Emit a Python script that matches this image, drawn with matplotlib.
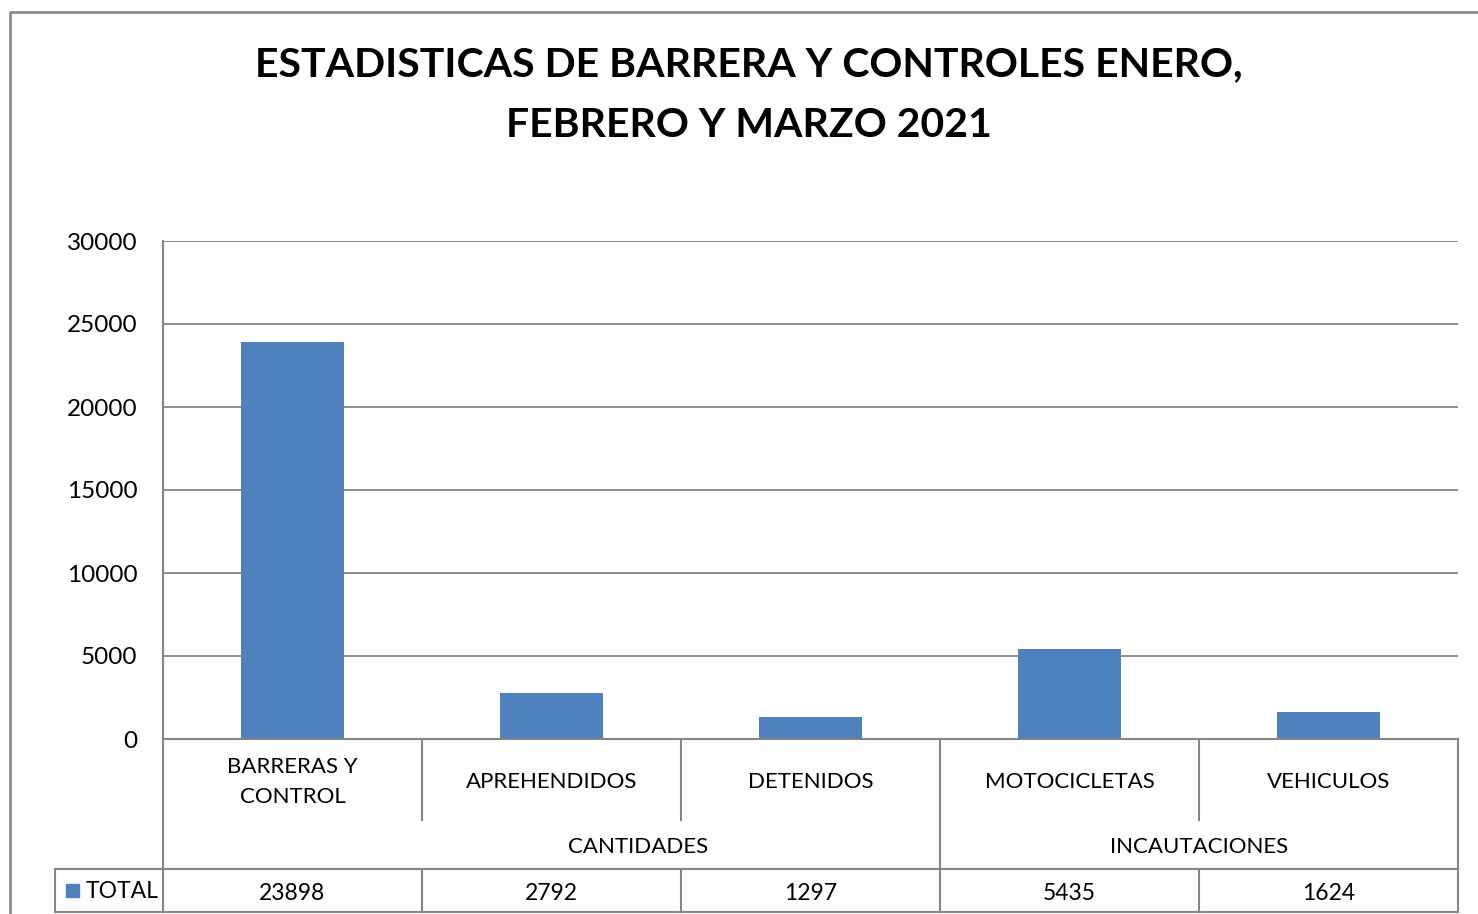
import matplotlib
matplotlib.use("Agg")
import matplotlib.pyplot as plt
from matplotlib.lines import Line2D
from matplotlib.transforms import blended_transform_factory, Affine2D

categories = ["BARRERAS Y\nCONTROL", "APREHENDIDOS", "DETENIDOS", "MOTOCICLETAS", "VEHICULOS"]
groups = ["CANTIDADES", "INCAUTACIONES"]
values = [23898, 2792, 1297, 5435, 1624]
series_name = "TOTAL"
yticks = [0, 5000, 10000, 15000, 20000, 25000, 30000]
title = "ESTADISTICAS DE BARRERA Y CONTROLES ENERO,\nFEBRERO Y MARZO 2021"

W, H = 1478, 914
BAR = "#4F81BD"
GRID = "#868686"
FONT = "Lato"

plt.rcParams['font.family'] = [FONT, 'DejaVu Sans']
fig = plt.figure(figsize=(W / 100, H / 100), dpi=100)

L, R, T, B = 163, 1458, 241, 739
ax = fig.add_axes([L / W, 1 - B / H, (R - L) / W, (B - T) / H])
x = list(range(len(values)))
ax.bar(x, values, width=0.4, color=BAR, zorder=3)
ax.set_xlim(-0.5, len(values) - 0.5)
ax.set_ylim(0, 30000)
ax.set_yticks(yticks)
ax.set_yticklabels([str(v) for v in yticks], fontsize=17.5)
ax.tick_params(axis='y', length=0, pad=18.5)
ax.set_xticks([])
for s in ax.spines.values():
    s.set_visible(False)
ax.grid(axis='y', color=GRID, lw=1.3, zorder=0)

# pixel transform (top-left origin)
pix = Affine2D().scale(1 / W, -1 / H).translate(0, 1) + fig.transFigure

def line(xs, ys, lw=1.5, color=GRID):
    fig.add_artist(Line2D(xs, ys, transform=pix, color=color, lw=lw))

# outer frame
line([10, 10, W + 5], [H + 5, 12, 12], lw=2.0, color="#8C8C8C")

# table grid
line([L, L], [T, 912])
line([L, R], [B, B])
line([55, R], [869, 869])
line([55, R], [912, 912])
line([55, 55], [869, 912])
line([R, R], [B, 912])
cw = (R - L) / len(values)
for i in range(1, len(values)):
    xb = L + i * cw
    if i == 3:
        line([xb, xb], [B, 912])
    else:
        line([xb, xb], [B, 820])
        line([xb, xb], [869, 912])

# texts using data x positions
bt = blended_transform_factory(ax.transData, pix)
for xi, c in zip(x, categories):
    fig.text(xi, 782, c, transform=bt, ha='center', va='center', fontsize=16,
             linespacing=1.6)
fig.text(1.334, 847, groups[0], transform=bt, ha='center', va='center', fontsize=16)
fig.text(3.5, 847, groups[1], transform=bt, ha='center', va='center', fontsize=16)
for xi, v in zip(x, values):
    fig.text(xi, 893, str(v), transform=bt, ha='center', va='center', fontsize=16.5)

# legend key
fig.add_artist(plt.Rectangle((66, 897), 13, -13, transform=pix, color=BAR))
fig.text(86, 891, series_name, transform=pix, ha='left', va='center', fontsize=16.5)

fig.text(749 / W, 1 - 95 / H, title, ha='center', va='center', fontsize=29.5,
         fontweight='bold', linespacing=1.78)

fig.savefig("out.png", dpi=100, facecolor='white')
